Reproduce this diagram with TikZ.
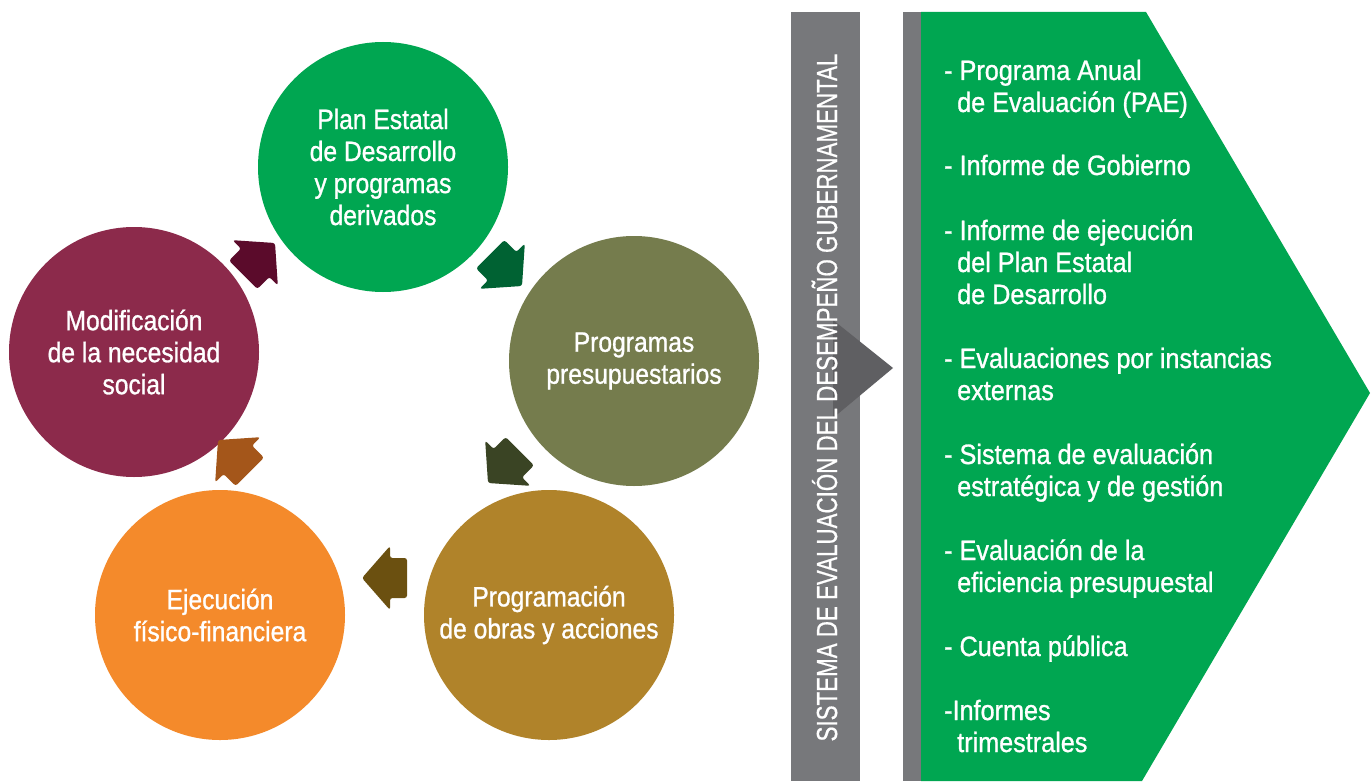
\documentclass[tikz,border=0pt]{standalone}
\usepackage{fontspec}
\setmainfont{Liberation Sans}
\newfontfamily\cnd{Liberation Sans}[FakeStretch=0.88,FakeBold=1]
\newfontfamily\rcnd{Liberation Sans}[FakeStretch=0.9,FakeBold=1]
\newfontfamily\vcnd{Liberation Sans}[FakeStretch=0.77,FakeBold=0.6]
\definecolor{cGreen}{HTML}{00A651}
\definecolor{cOlive}{HTML}{757C4D}
\definecolor{cGold}{HTML}{B0832A}
\definecolor{cOrange}{HTML}{F48A2B}
\definecolor{cMaroon}{HTML}{8C2A4B}
\definecolor{aMaroon}{HTML}{5B0B2B}
\definecolor{aGreen}{HTML}{006233}
\definecolor{aOlive}{HTML}{3A4424}
\definecolor{aBrown}{HTML}{6B5010}
\definecolor{aOrange}{HTML}{A4561A}
\definecolor{barGray}{HTML}{77787B}
\definecolor{triGray}{HTML}{5F5F62}
\begin{document}
\begin{tikzpicture}[x=1pt,y=-1pt,
  circ/.style={circle, minimum size=250pt, inner sep=0pt, text=white, align=center,
    font=\cnd\fontsize{28}{32}\selectfont},
  rline/.style={anchor=base west, inner sep=0pt, text=white,
    font=\rcnd\fontsize{28}{32}\selectfont},
  blockarr/.pic={\fill[fill=#1, rounded corners=2.5pt] (0,0) -- (-28,32) -- (-28,20) -- (-45,20)
     -- (-45,-20) -- (-28,-20) -- (-28,-32) -- cycle;}
]
\useasboundingbox (0,0) rectangle (1372,781);
\fill[white] (0,0) rectangle (1372,781);

% circles
\node[circ, fill=cGreen]  (plan) at (383,167) {Plan Estatal\\de Desarrollo\\y programas\\derivados};
\node[circ, fill=cOlive]  (prog) at (634,361) {Programas\\presupuestarios};
\node[circ, fill=cGold]   (obras) at (549,615) {Programación\\de obras y acciones};
\node[circ, fill=cOrange] (ejec) at (220,615) {Ejecución\\físico-financiera};
\node[circ, fill=cMaroon] (modif) at (134,352) {Modificación\\de la necesidad\\social};

% block arrows
\pic[rotate=45]   at (275,243) {blockarr=aMaroon};
\pic[rotate=-45]  at (522,286) {blockarr=aGreen};
\pic[rotate=-135] at (488,483) {blockarr=aOlive};
\pic[rotate=180]  at (362,578) {blockarr=aBrown};
\pic[rotate=135]  at (218,440) {blockarr=aOrange};

% right panel
\fill[barGray] (791,12) rectangle (860,781);
\fill[triGray] (833,320) -- (893,368) -- (833,418) -- cycle;
\node[rotate=90, anchor=base, inner sep=0pt, text=white,
  font=\vcnd\fontsize{29}{32}\selectfont] (vt) at (837,397.5)
  {SISTEMA DE EVALUACIÓN DEL DESEMPEÑO GUBERNAMENTAL};
\fill[barGray] (903,12) rectangle (921,781);
\fill[cGreen] (921,12) -- (1146,12) -- (1370,393) -- (1142,781) -- (921,781) -- cycle;

\node[rline] (l1)  at (944,80)  {- Programa Anual};
\node[rline] (l2)  at (957,112) {de Evaluación (PAE)};
\node[rline] (l3)  at (944,175) {- Informe de Gobierno};
\node[rline] (l4)  at (944,240) {- Informe de ejecución};
\node[rline] (l5)  at (957,272) {del Plan Estatal};
\node[rline] (l6)  at (957,304) {de Desarrollo};
\node[rline] (l7)  at (944,368) {- Evaluaciones por instancias};
\node[rline] (l8)  at (957,400) {externas};
\node[rline] (l9)  at (944,464) {- Sistema de evaluación};
\node[rline] (l10) at (957,496) {estratégica y de gestión};
\node[rline] (l11) at (944,560) {- Evaluación de la};
\node[rline] (l12) at (957,592) {eficiencia presupuestal};
\node[rline] (l13) at (944,656) {- Cuenta pública};
\node[rline] (l14) at (944,720) {-Informes};
\node[rline] (l15) at (957,752) {trimestrales};
\end{tikzpicture}
\end{document}
